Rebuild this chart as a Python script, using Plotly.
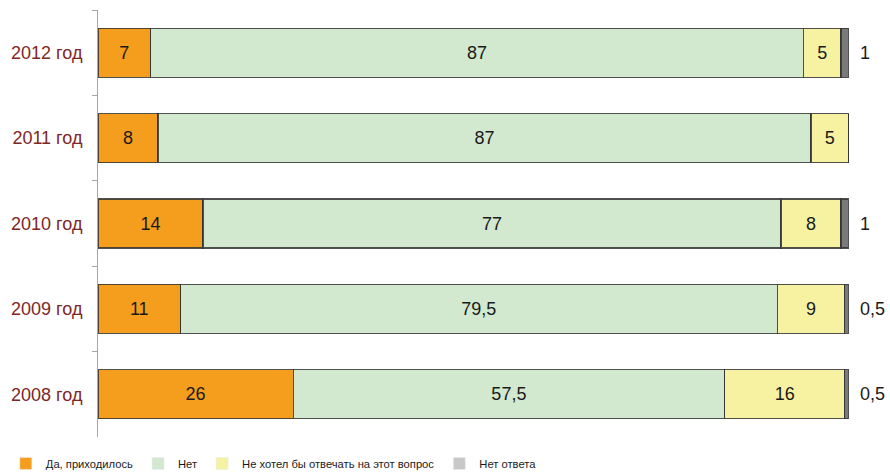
import plotly.graph_objects as go

years = ["2012 год", "2011 год", "2010 год", "2009 год", "2008 год"]
yes_vals = [7, 8, 14, 11, 26]
no_vals = [87, 87, 77, 79.5, 57.5]
refuse_vals = [5, 5, 8, 9, 16]
noans_vals = [1, 0, 1, 0.5, 0.5]

series_names = ["Да, приходилось", "Нет", "Не хотел бы отвечать на этот вопрос", "Нет ответа"]
colors = ["#F59E1E", "#D3E9CF", "#F6F2A2", "#7A7A7A"]
legend_colors = ["#F59E1E", "#D3E9CF", "#F6F2A2", "#C8C8C8"]

FONT = "Arial, Liberation Sans, sans-serif"

def fmt(v):
    if v == 0:
        return ""
    return ("%g" % v).replace(".", ",")

fig = go.Figure()
all_vals = [yes_vals, no_vals, refuse_vals, noans_vals]
for i, (name, vals) in enumerate(zip(series_names, all_vals)):
    show_text = i < 3
    fig.add_trace(go.Bar(
        y=years, x=vals, orientation="h", name=name,
        marker=dict(color=colors[i], line=dict(color="rgba(50,50,50,0.85)", width=1.2)),
        text=[fmt(v) for v in vals] if show_text else None,
        textposition="inside" if show_text else "none",
        insidetextanchor="middle",
        textfont=dict(family=FONT, size=18, color="#1a1a1a"),
        constraintext="none",
        hoverinfo="x+name",
        showlegend=False,
    ))
    fig.add_trace(go.Bar(
        y=[None], x=[None], orientation="h", name=name,
        marker=dict(color=legend_colors[i]), showlegend=True,
    ))

annotations = []
for yr, v in zip(years, noans_vals):
    if v == 0:
        continue
    annotations.append(dict(
        x=101.3, y=yr, xref="x", yref="y", text=fmt(v), showarrow=False,
        xanchor="left", yanchor="middle",
        font=dict(family=FONT, size=18, color="#1a1a1a"),
    ))

fig.update_layout(
    barmode="stack",
    bargap=0.426,
    width=890, height=474,
    margin=dict(l=98, r=4, t=10, b=37, autoexpand=False),
    plot_bgcolor="white", paper_bgcolor="white",
    annotations=annotations,
    xaxis=dict(range=[0, 105], visible=False, fixedrange=True),
    yaxis=dict(
        autorange="reversed", showline=True, linecolor="#A6A6A6", linewidth=1,
        ticks="outside", ticklen=5, tickcolor="#A6A6A6", tickson="boundaries",
        showgrid=False, ticklabelstandoff=11,
        tickfont=dict(family=FONT, size=18, color="#7F2626"),
    ),
    legend=dict(
        orientation="h", x=-0.117, xanchor="left", y=-0.062, yanchor="middle",
        font=dict(family=FONT, size=11.2, color="#1a1a1a"),
        itemwidth=30, traceorder="normal",
    ),
    showlegend=True,
)

fig.write_html("out.html", config={"displayModeBar": False},
               post_script="document.body.style.margin='0';")
